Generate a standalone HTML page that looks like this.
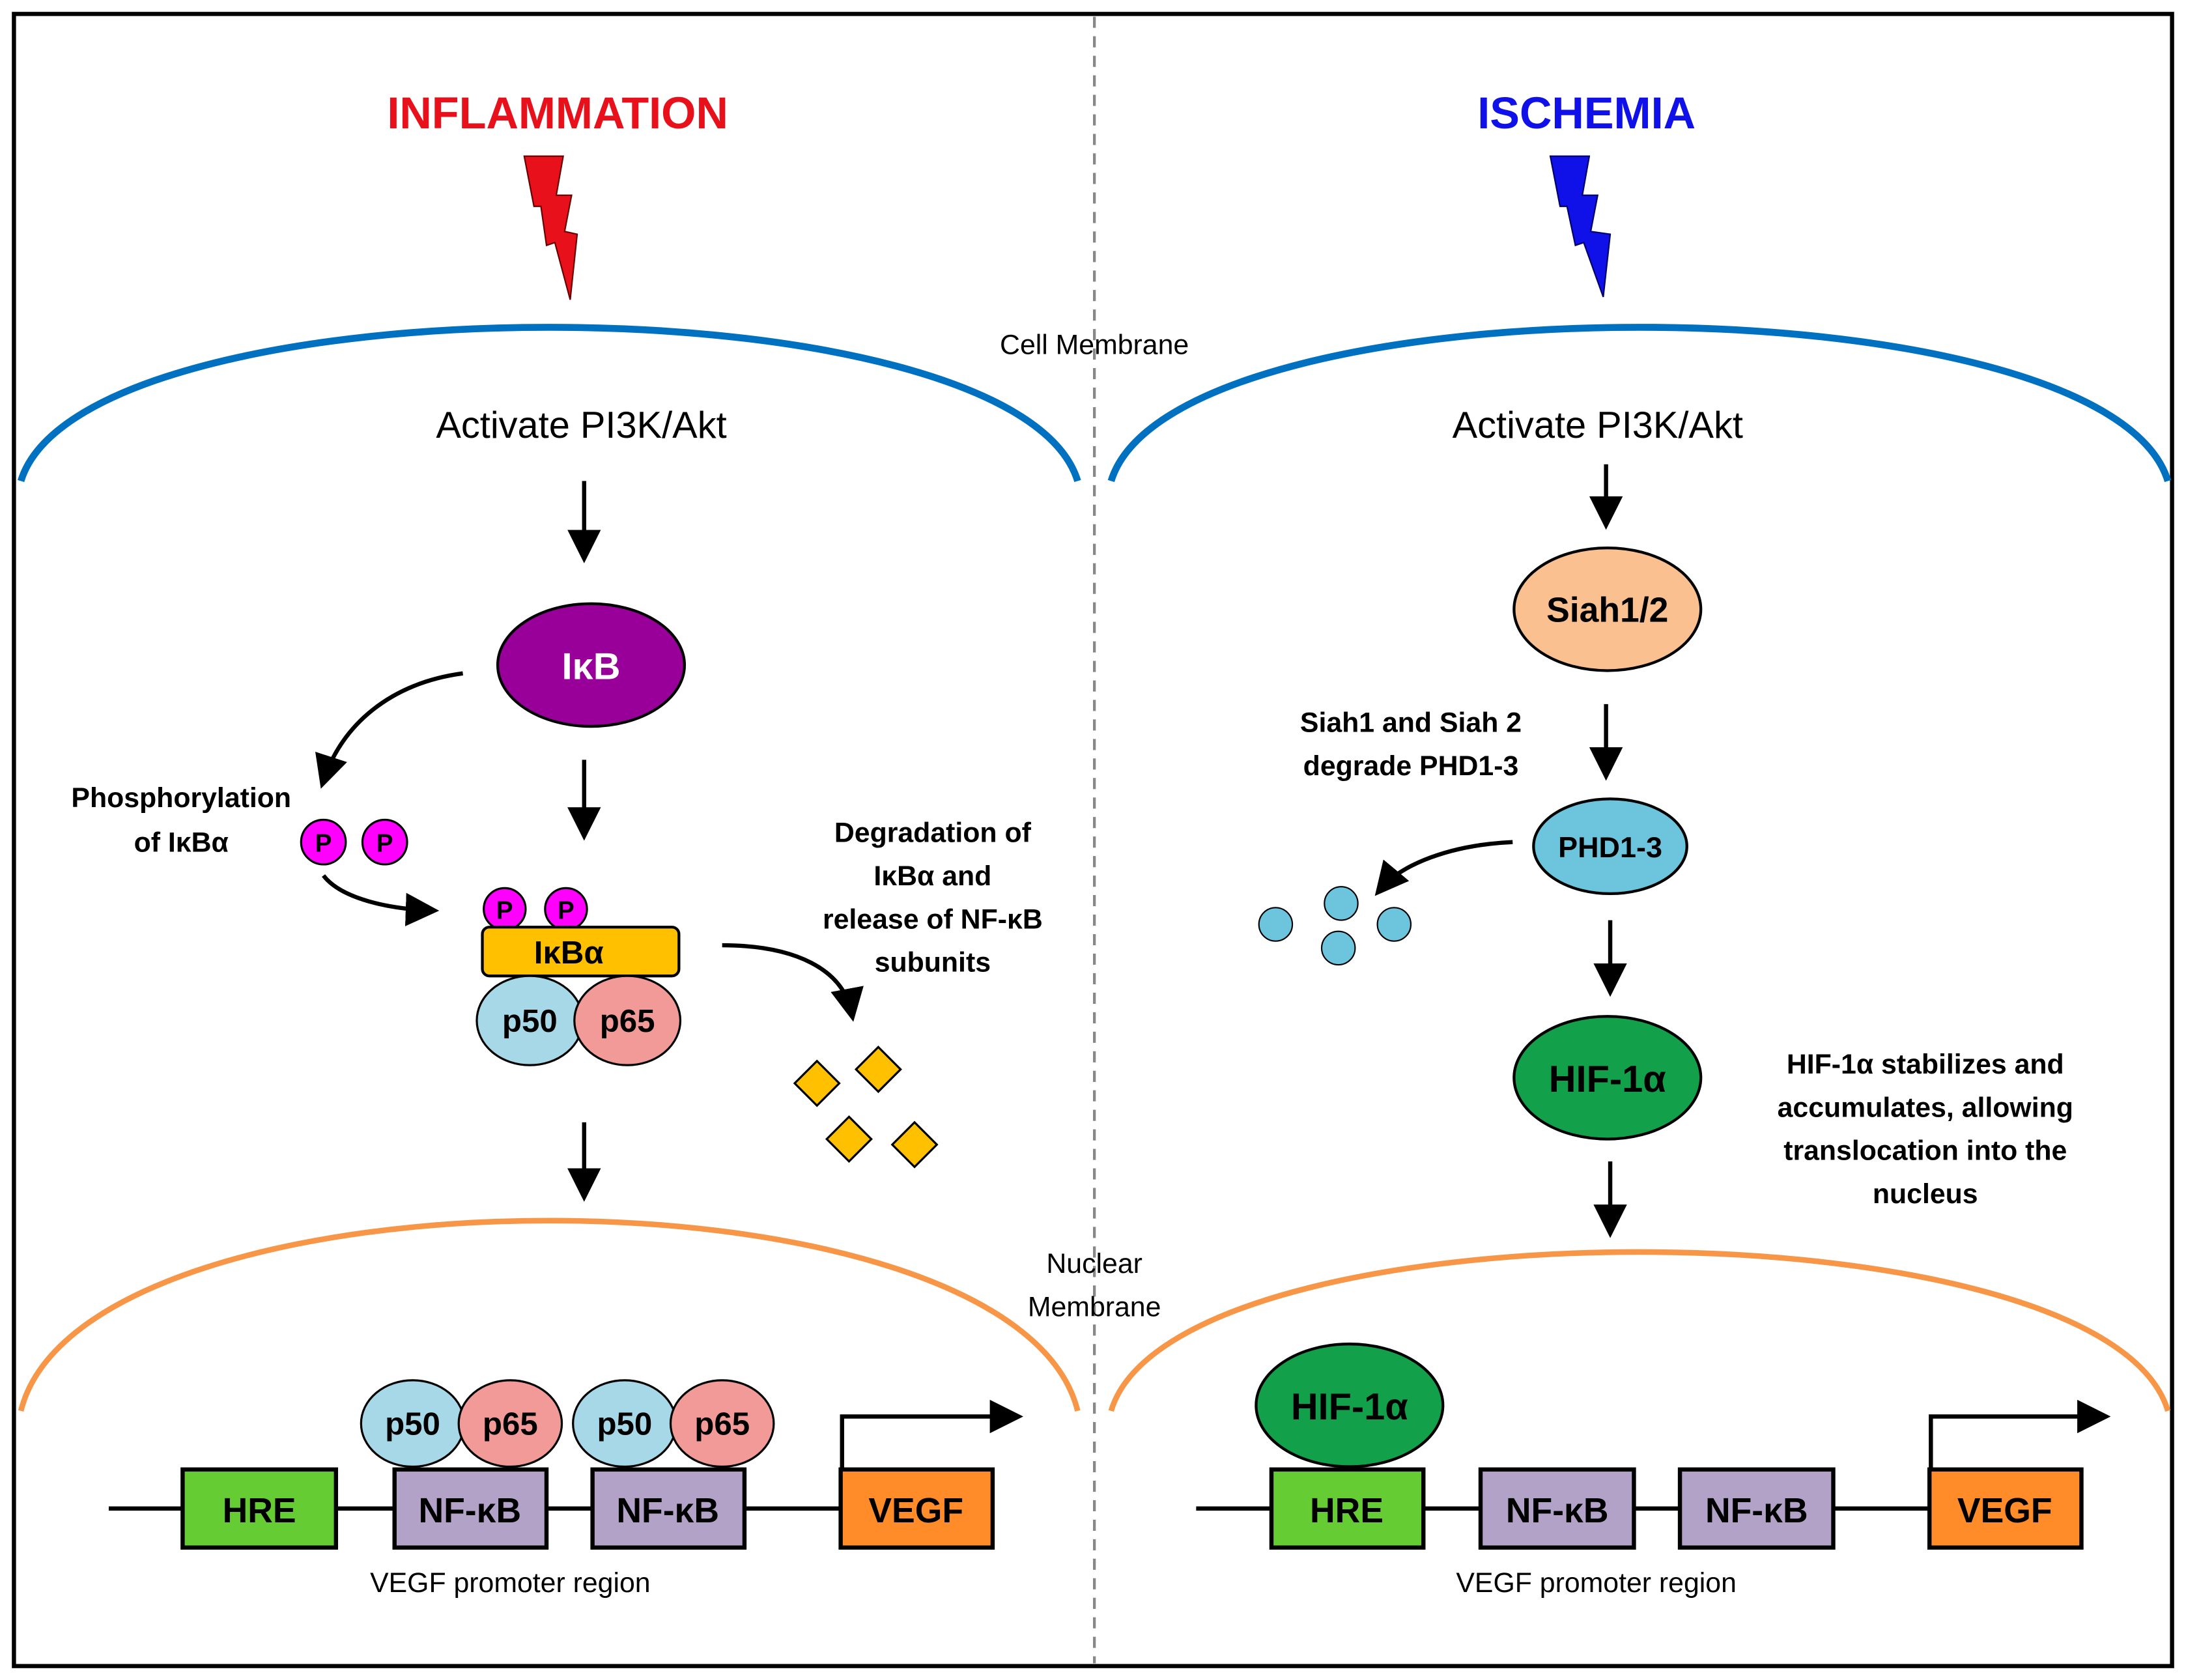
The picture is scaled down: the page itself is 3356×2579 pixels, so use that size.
<!DOCTYPE html>
<html><head><meta charset="utf-8"><style>html,body{margin:0;padding:0;background:#fff}svg{display:block}text{font-family:"Liberation Sans",sans-serif}</style></head>
<body>
<svg width="3356" height="2579" viewBox="0 0 1568 1205" preserveAspectRatio="none" xmlns="http://www.w3.org/2000/svg">
<defs>
<marker id="ah" markerWidth="8" markerHeight="8" refX="6" refY="4" orient="auto" markerUnits="strokeWidth"><path d="M0,0 L8,4 L0,8 z" fill="#000"/></marker>
</defs>
<rect x="0" y="0" width="1568" height="1205" fill="#fff"/>
<rect x="10" y="10" width="1548" height="1185" fill="none" stroke="#000" stroke-width="3"/>
<line x1="785" y1="12" x2="785" y2="1193" stroke="#888" stroke-width="2" stroke-dasharray="8,6"/>

<text x="400" y="92" font-size="32" font-weight="bold" fill="#E8101A" text-anchor="middle">INFLAMMATION</text>
<text x="1138" y="92" font-size="32" font-weight="bold" fill="#1010E8" text-anchor="middle">ISCHEMIA</text>
<polygon points="376,112 404,112 399,140 410,140 405,166 414,168 409,215 398,174 392,176 388,148 383,148" fill="#E8101A" stroke="#600" stroke-width="1"/>
<polygon points="1112,112 1140,112 1135,140 1146,140 1141,166 1155,168 1150,213 1136,174 1130,176 1124,148 1119,148" fill="#1010E8" stroke="#006" stroke-width="1"/>

<path d="M15,345 C60,198 728,198 773,345" fill="none" stroke="#0070C0" stroke-width="5"/>
<path d="M797,345 C842,198 1510,198 1555,345" fill="none" stroke="#0070C0" stroke-width="5"/>
<text x="785" y="254" font-size="20" text-anchor="middle">Cell Membrane</text>
<text x="417" y="314" font-size="27" text-anchor="middle">Activate PI3K/Akt</text>
<text x="1146" y="314" font-size="27" text-anchor="middle">Activate PI3K/Akt</text>

<g stroke="#000" stroke-width="3" fill="none" marker-end="url(#ah)">
<line x1="419" y1="345" x2="419" y2="398"/>
<line x1="1152" y1="333" x2="1152" y2="374"/>
<line x1="419" y1="545" x2="419" y2="597"/>
<line x1="419" y1="805" x2="419" y2="856"/>
<line x1="1152" y1="505" x2="1152" y2="554"/>
<line x1="1155" y1="660" x2="1155" y2="709"/>
<line x1="1155" y1="833" x2="1155" y2="882"/>
<path d="M332,483 C280,490 245,520 232,560"/>
<path d="M232,628 C245,645 280,652 309,653"/>
<path d="M518,678 C570,678 605,695 611,727"/>
<path d="M1085,604 C1040,606 1005,620 990,638"/>
</g>

<ellipse cx="424" cy="477" rx="67" ry="44" fill="#990099" stroke="#000" stroke-width="2"/>
<text x="424" y="487" font-size="27" font-weight="bold" fill="#fff" text-anchor="middle">IκB</text>

<text x="130" y="579" font-size="20" font-weight="bold" text-anchor="middle">Phosphorylation</text>
<text x="130" y="611" font-size="20" font-weight="bold" text-anchor="middle">of IκBα</text>
<g stroke="#000" stroke-width="1.5" fill="#FF00FF">
<circle cx="232" cy="604" r="16"/><circle cx="276" cy="604" r="16"/>
<circle cx="362" cy="652" r="15"/><circle cx="406" cy="652" r="15"/>
</g>
<g font-size="18" font-weight="bold" text-anchor="middle">
<text x="232" y="611">P</text><text x="276" y="611">P</text>
<text x="362" y="659">P</text><text x="406" y="659">P</text>
</g>
<rect x="346" y="665" width="141" height="35" rx="5" fill="#FFC000" stroke="#000" stroke-width="2"/>
<text x="408" y="691" font-size="23" font-weight="bold" text-anchor="middle">IκBα</text>
<ellipse cx="380" cy="732" rx="38" ry="32" fill="#A6D8E8" stroke="#000" stroke-width="1.5"/>
<ellipse cx="450" cy="732" rx="38" ry="32" fill="#F19A98" stroke="#000" stroke-width="1.5"/>
<text x="380" y="740" font-size="23" font-weight="bold" text-anchor="middle">p50</text>
<text x="450" y="740" font-size="23" font-weight="bold" text-anchor="middle">p65</text>

<g font-size="20" font-weight="bold" text-anchor="middle">
<text x="669" y="604">Degradation of</text><text x="669" y="635">IκBα and</text>
<text x="669" y="666">release of NF-κB</text><text x="669" y="697">subunits</text>
</g>
<g fill="#FFC000" stroke="#000" stroke-width="1.5">
<polygon points="586,761 602,777 586,793 570,777"/>
<polygon points="630,751 646,767 630,783 614,767"/>
<polygon points="609,801 625,817 609,833 593,817"/>
<polygon points="656,805 672,821 656,837 640,821"/>
</g>

<path d="M15,1012 C60,830 728,830 773,1012" fill="none" stroke="#F79646" stroke-width="4"/>
<path d="M797,1012 C842,860 1510,860 1555,1012" fill="none" stroke="#F79646" stroke-width="4"/>
<text x="785" y="913" font-size="20" text-anchor="middle">Nuclear</text>
<text x="785" y="944" font-size="20" text-anchor="middle">Membrane</text>

<line x1="78" y1="1082" x2="605" y2="1082" stroke="#000" stroke-width="3"/>
<line x1="858" y1="1082" x2="1385" y2="1082" stroke="#000" stroke-width="3"/>
<g stroke="#000" stroke-width="3">
<rect x="131" y="1054" width="110" height="56" fill="#66CC33"/>
<rect x="283" y="1054" width="109" height="56" fill="#B3A2C7"/>
<rect x="425" y="1054" width="109" height="56" fill="#B3A2C7"/>
<rect x="603" y="1054" width="109" height="56" fill="#FF8C28"/>
<rect x="912" y="1054" width="109" height="56" fill="#66CC33"/>
<rect x="1062" y="1054" width="110" height="56" fill="#B3A2C7"/>
<rect x="1205" y="1054" width="110" height="56" fill="#B3A2C7"/>
<rect x="1384" y="1054" width="109" height="56" fill="#FF8C28"/>
</g>
<g font-size="25" font-weight="bold" text-anchor="middle">
<text x="186" y="1092">HRE</text><text x="337" y="1092">NF-κB</text><text x="479" y="1092">NF-κB</text><text x="657" y="1092">VEGF</text>
<text x="966" y="1092">HRE</text><text x="1117" y="1092">NF-κB</text><text x="1260" y="1092">NF-κB</text><text x="1438" y="1092">VEGF</text>
</g>
<g stroke="#000" stroke-width="3" fill="none" marker-end="url(#ah)">
<path d="M604,1054 L604,1016 L728,1016"/>
<path d="M1385,1054 L1385,1016 L1508,1016"/>
</g>
<g stroke="#000" stroke-width="1.5">
<ellipse cx="296" cy="1021" rx="37" ry="31" fill="#A6D8E8"/>
<ellipse cx="366" cy="1021" rx="37" ry="31" fill="#F19A98"/>
<ellipse cx="448" cy="1021" rx="37" ry="31" fill="#A6D8E8"/>
<ellipse cx="518" cy="1021" rx="37" ry="31" fill="#F19A98"/>
</g>
<g font-size="23" font-weight="bold" text-anchor="middle">
<text x="296" y="1029">p50</text><text x="366" y="1029">p65</text><text x="448" y="1029">p50</text><text x="518" y="1029">p65</text>
</g>
<text x="366" y="1142" font-size="20" text-anchor="middle">VEGF promoter region</text>
<text x="1145" y="1142" font-size="20" text-anchor="middle">VEGF promoter region</text>

<ellipse cx="1153" cy="437" rx="67" ry="44" fill="#FAC090" stroke="#000" stroke-width="2"/>
<text x="1153" y="446" font-size="25" font-weight="bold" text-anchor="middle">Siah1/2</text>
<text x="1012" y="525" font-size="20" font-weight="bold" text-anchor="middle">Siah1 and Siah 2</text>
<text x="1012" y="556" font-size="20" font-weight="bold" text-anchor="middle">degrade PHD1-3</text>
<ellipse cx="1155" cy="607" rx="55" ry="34" fill="#6CC5DC" stroke="#000" stroke-width="2"/>
<text x="1155" y="615" font-size="21" font-weight="bold" text-anchor="middle">PHD1-3</text>
<g fill="#6CC5DC" stroke="#000" stroke-width="1">
<circle cx="915" cy="663" r="12"/><circle cx="962" cy="648" r="12"/><circle cx="1000" cy="663" r="12"/><circle cx="960" cy="680" r="12"/>
</g>
<ellipse cx="1153" cy="773" rx="67" ry="44" fill="#12A04A" stroke="#000" stroke-width="2"/>
<text x="1153" y="783" font-size="27" font-weight="bold" text-anchor="middle">HIF-1α</text>
<g font-size="20" font-weight="bold" text-anchor="middle">
<text x="1381" y="770">HIF-1α stabilizes and</text><text x="1381" y="801">accumulates, allowing</text>
<text x="1381" y="832">translocation into the</text><text x="1381" y="863">nucleus</text>
</g>
<ellipse cx="968" cy="1008" rx="67" ry="44" fill="#12A04A" stroke="#000" stroke-width="2"/>
<text x="968" y="1018" font-size="27" font-weight="bold" text-anchor="middle">HIF-1α</text>
</svg>
</body></html>
